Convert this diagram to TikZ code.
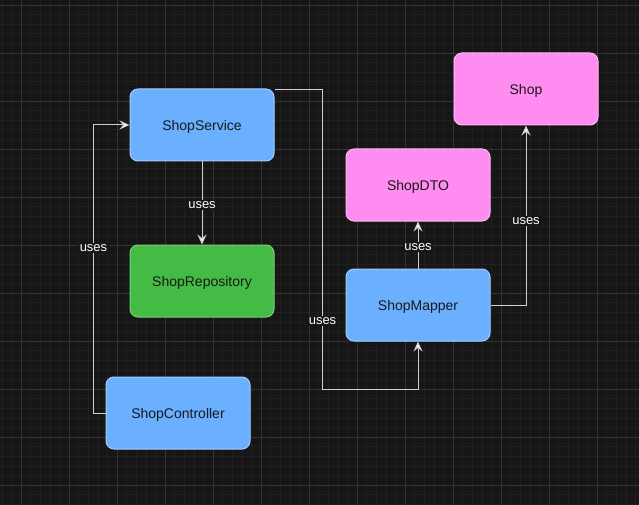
\documentclass[tikz,border=0pt]{standalone}
\usepackage{fontspec}
\setmainfont{Liberation Sans}
\usepackage{xcolor}
\usepackage{tikz}
\usetikzlibrary{arrows.meta}
\definecolor{bgdark}{HTML}{161616}
\definecolor{gridminor}{HTML}{1F1F1F}
\definecolor{gridmajor}{HTML}{333333}
\definecolor{svcblue}{HTML}{6AB0FF}
\definecolor{svcblueline}{HTML}{A6CCFF}
\definecolor{dtopink}{HTML}{FF8CF0}
\definecolor{dtopinkline}{HTML}{FFB8F6}
\definecolor{repogreen}{HTML}{44BB44}
\definecolor{repogreenline}{HTML}{7ACF7A}
\definecolor{linegray}{HTML}{D0D0D0}
\tikzset{
  sbox/.style={draw=svcblueline, line width=1pt, rounded corners=8pt, fill=svcblue, minimum width=144pt, minimum height=72pt, inner sep=0pt, text height=13pt, text depth=2pt, text=black!90, font=\fontsize{14}{16}\selectfont},
  sdto/.style={sbox, draw=dtopinkline, fill=dtopink},
  srepo/.style={sbox, draw=repogreenline, fill=repogreen},
  sflow/.style={-{Stealth[length=10pt, width=9pt, inset=3.5pt, fill=white]}, line width=1pt, linegray},
  slbl/.style={font=\fontsize{13}{15}\selectfont, text=white, fill=bgdark, inner sep=1.5pt, yshift=-2pt},
}
\begin{document}
\begin{tikzpicture}[x=1pt, y=-1pt]
    \useasboundingbox (0,0) rectangle (639,505);
    \fill[bgdark] (0,0) rectangle (639,505);
    % grid
    \foreach \i in {0,...,66} {
      \draw[gridminor, line width=0.6pt] ({1.8+9.6*\i},0) -- ++(0,505);
    }
    \foreach \i in {0,...,53} {
      \draw[gridminor, line width=0.6pt] (0,{-4.6+9.6*\i}) -- ++(639,0);
    }
    \foreach \i in {0,...,13} {
      \draw[gridmajor, line width=0.8pt] ({21+48*\i},0) -- ++(0,505);
    }
    \foreach \i in {0,...,10} {
      \draw[gridmajor, line width=0.8pt] (0,{5+48*\i}) -- ++(639,0);
    }
    % nodes
    \node[sbox] (svc) at (202,125) {ShopService};
    \node[srepo] (repo) at (202,281) {ShopRepository};
    \node[sbox] (ctrl) at (178,413) {ShopController};
    \node[sdto] (dto) at (418,185) {ShopDTO};
    \node[sbox] (map) at (418,305) {ShopMapper};
    \node[sdto] (shop) at (526,89) {Shop};
    % connectors
    \draw[sflow] (svc) -- node[slbl] {uses} (repo);
    \draw[sflow] (ctrl.west) -- ++(-12,0) |- node[slbl, pos=0.29] {uses} (svc.west);
    \draw[sflow] ([yshift=-1pt]svc.north east) -- ++(48,0) |- node[slbl, pos=0.383] {uses} ([yshift=-48pt]map.south) -- (map.south);
    \draw[sflow] (map) -- node[slbl] {uses} (dto);
    \draw[sflow] (map.east) -| node[slbl, pos=0.74] {uses} (shop.south);
  \end{tikzpicture}
\end{document}
